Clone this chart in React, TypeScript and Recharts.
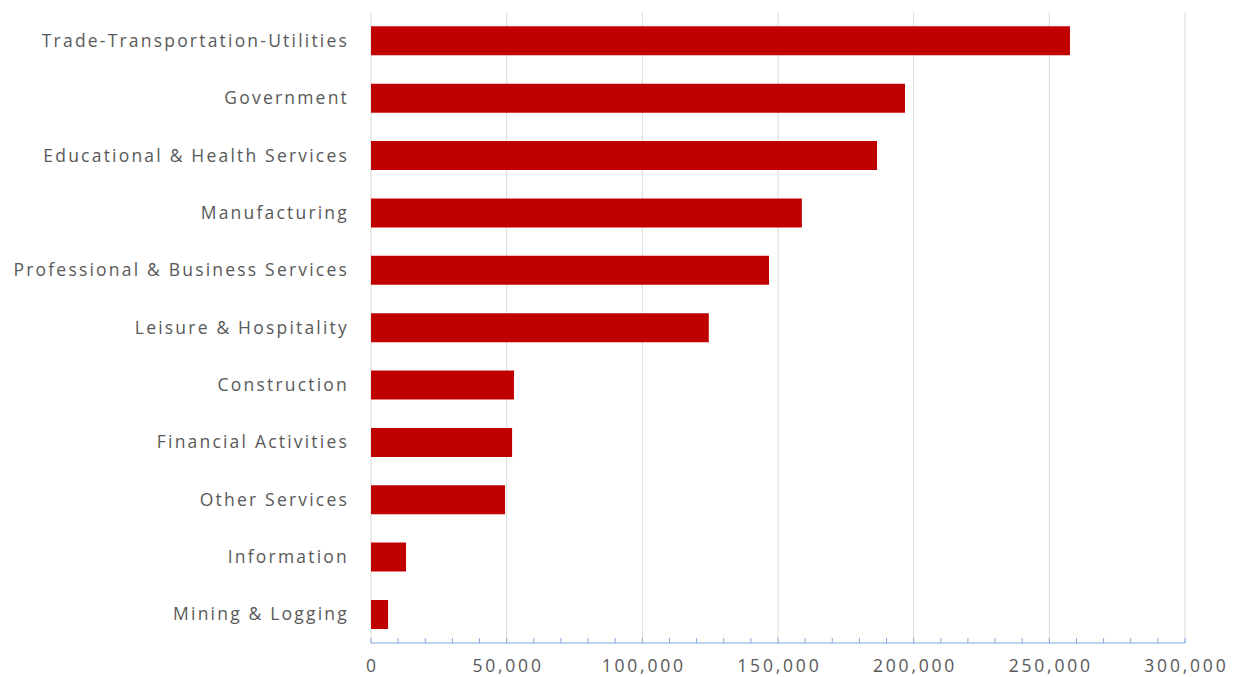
import { BarChart, Bar, XAxis, YAxis, CartesianGrid } from "recharts";

const industries = [
  "Trade-Transportation-Utilities",
  "Government",
  "Educational & Health Services",
  "Manufacturing",
  "Professional & Business Services",
  "Leisure & Hospitality",
  "Construction",
  "Financial Activities",
  "Other Services",
  "Information",
  "Mining & Logging",
];

const employment = [
  257600, 196800, 186500, 158800, 146700, 124500, 52700, 52000, 49400, 12900, 6300,
];

const maxValue = 300000;
const majorTicks = [0, 50000, 100000, 150000, 200000, 250000, 300000];
const minorStep = 10000;

const allTicks: number[] = [];
for (let v = 0; v <= maxValue; v += minorStep) allTicks.push(v);

const data = industries.map((name, i) => ({ name, value: employment[i] }));

const font = "'Open Sans', sans-serif";
const textColor = "#595959";
const axisColor = "#7fa9dc";

function XTick(props: any) {
  const { x, y, payload } = props;
  const v = payload.value as number;
  const isMajor = majorTicks.includes(v);
  return (
    <g>
      <line x1={x} x2={x} y1={y - 5} y2={y} stroke={axisColor} strokeWidth={1} />
      {isMajor && (
        <text
          x={x + 1.4}
          y={y + 29}
          textAnchor="middle"
          fill={textColor}
          fontSize={17.5}
          fontFamily={font}
          letterSpacing={2.8}
        >
          {v.toLocaleString("en-US")}
        </text>
      )}
    </g>
  );
}

function YTick(props: any) {
  const { x, y, payload } = props;
  return (
    <text
      x={x - 22}
      y={y}
      dy="0.35em"
      textAnchor="end"
      fill={textColor}
      fontSize={17.5}
      fontFamily={font}
      letterSpacing={2.2}
    >
      {payload.value}
    </text>
  );
}

// gridlines only at the labelled (major) ticks
const gridGen = ({ offset }: any) =>
  majorTicks.map((v) => offset.left + (offset.width * v) / maxValue);

export default function App() {
  return (
    <div style={{ position: "absolute", left: 0, top: 0, background: "#fff" }}>
      <BarChart
        width={1236}
        height={677}
        data={data}
        layout="vertical"
        barCategoryGap="25%"
        margin={{ top: 12, right: 51, bottom: 0, left: 0 }}
      >
        <CartesianGrid
          horizontal={false}
          stroke="#d9d9d9"
          verticalCoordinatesGenerator={gridGen}
        />
        <XAxis
          type="number"
          domain={[0, maxValue]}
          ticks={allTicks}
          interval={0}
          height={34}
          axisLine={{ stroke: axisColor, strokeWidth: 1 }}
          tickLine={false}
          tickSize={0}
          tickMargin={0}
          tick={<XTick />}
        />
        <YAxis
          type="category"
          dataKey="name"
          width={371}
          axisLine={false}
          tickLine={false}
          tickSize={0}
          tickMargin={0}
          interval={0}
          tick={<YTick />}
        />
        <Bar dataKey="value" fill="#c00000" isAnimationActive={false} />
      </BarChart>
    </div>
  );
}
